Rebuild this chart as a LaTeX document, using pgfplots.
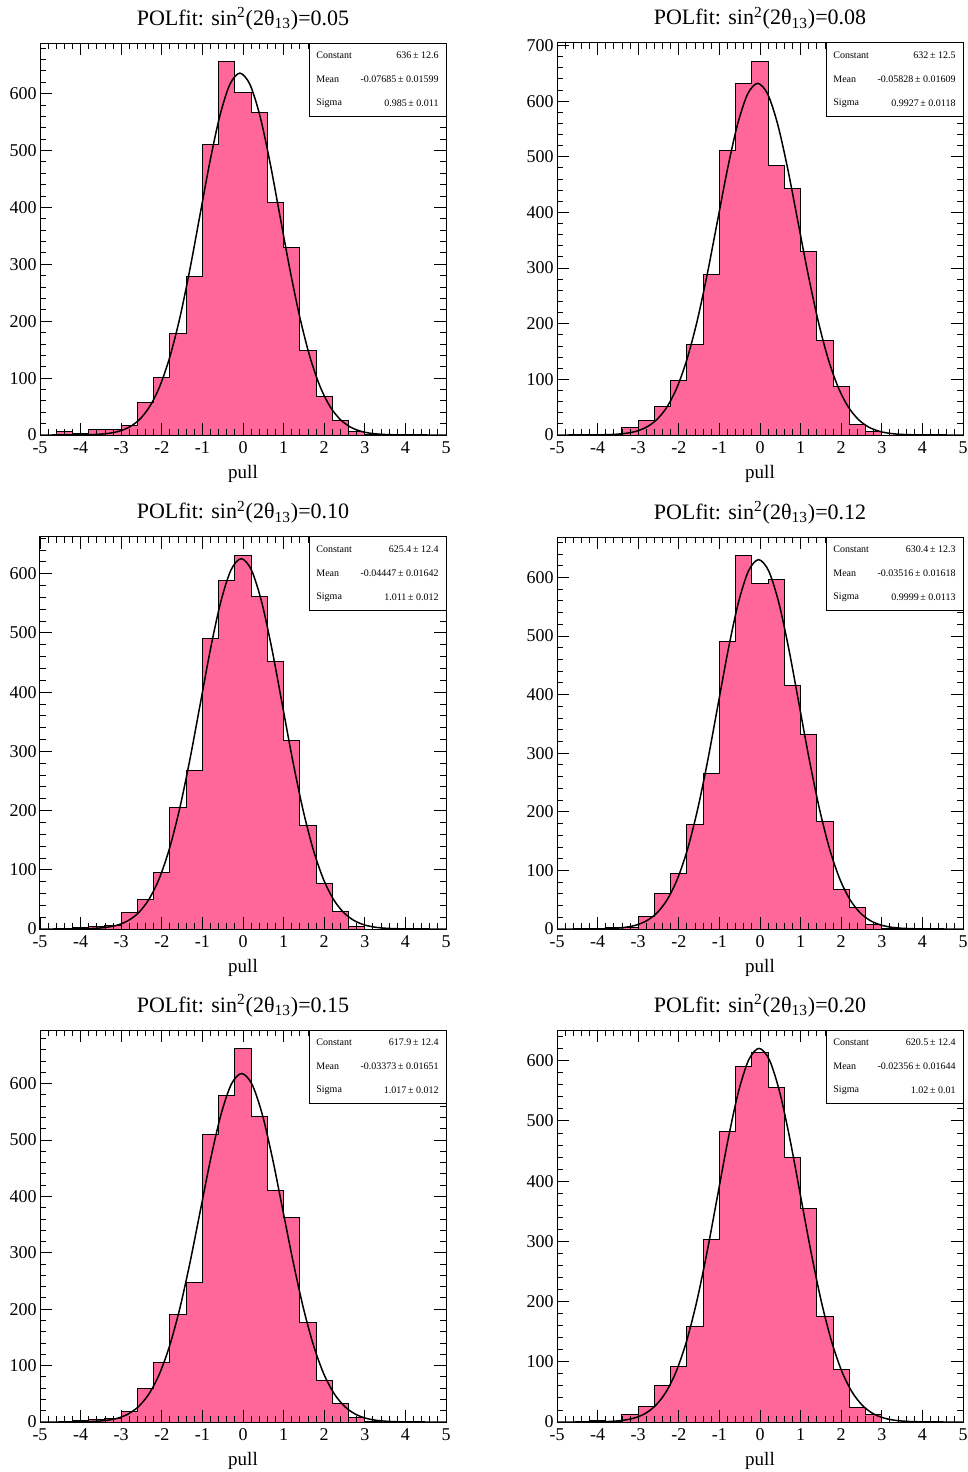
\documentclass[border=0pt]{standalone}
\usepackage{fontspec}
\setmainfont{Liberation Serif}
\usepackage{pgfplots}
\pgfplotsset{compat=1.18}
\definecolor{histpink}{RGB}{255,102,153}
\pgfplotsset{
 rootaxis/.style={
  scale only axis, width=203pt, height=196pt,
  xmin=-5, xmax=5, ymin=0,
  xtick={-5,-4,-3,-2,-1,0,1,2,3,4,5},
  xticklabels={-5,-4,-3,-2,-1,0,1,2,3,4,5},
  ytick={0,100,200,300,400,500,600,700},
  yticklabels={0,100,200,300,400,500,600,700},
  minor x tick num=4, minor y tick num=4,
  tick align=inside, tick pos=both,
  major tick length=6pt, minor tick length=3pt,
  tick style={black, line width=0.45pt},
  axis line style={line width=0.5pt},
  axis on top,
  xticklabel style={font=\fontsize{9}{10}\selectfont, anchor=base, yshift=-9pt, inner sep=0pt},
  yticklabel style={font=\fontsize{9}{10}\selectfont, anchor=east, xshift=-1.5pt, inner sep=0pt},
  xlabel={pull},
  xlabel style={font=\fontsize{9.5}{11}\selectfont, at={(axis description cs:0.5,0)}, anchor=base, yshift=-21.5pt, inner sep=0pt},
  title style={font=\fontsize{11}{13}\selectfont, at={(axis description cs:0.5,1)}, anchor=base, yshift=3pt, inner sep=0pt},
 },
 hist/.style={const plot, fill=histpink, draw=black, line width=0.5pt},
 fitc/.style={smooth, black, line width=0.75pt},
}
\newcommand{\statbox}[4]{%
 \draw[black, line width=0.5pt, fill=white] ([shift={(134.6pt,159.5pt)}]#1.south west) rectangle (#1.north east);
 \node[anchor=west, inner sep=0pt, font=\fontsize{5}{6}\selectfont] at ([shift={(138pt,189.9pt)}]#1.south west) {Constant};
 \node[anchor=west, inner sep=0pt, font=\fontsize{5}{6}\selectfont] at ([shift={(138pt,178.0pt)}]#1.south west) {Mean};
 \node[anchor=west, inner sep=0pt, font=\fontsize{5}{6}\selectfont] at ([shift={(138pt,166.0pt)}]#1.south west) {Sigma};
 \node[anchor=east, inner sep=0pt, font=\fontsize{5}{6}\selectfont] at ([shift={(199.5pt,189.9pt)}]#1.south west) {#2};
 \node[anchor=east, inner sep=0pt, font=\fontsize{5}{6}\selectfont] at ([shift={(199.5pt,178.0pt)}]#1.south west) {#3};
 \node[anchor=east, inner sep=0pt, font=\fontsize{5}{6}\selectfont] at ([shift={(199.5pt,166.0pt)}]#1.south west) {#4};
}
\begin{document}
\begin{tikzpicture}
\useasboundingbox (0,0) rectangle (484pt,-736pt);
% ---------- Panel 1 ----------
\begin{axis}[rootaxis, name=a1, at={(20pt,-217.5pt)}, anchor=south west, ymax=689,
  title={POLfit: sin\textsuperscript{2}(2θ\textsubscript{13})=0.05}]
\addplot[hist] coordinates {(-5,0)(-4.6,7)(-4.2,2)(-3.8,10)(-3.4,10)(-3.0,17)(-2.6,57)(-2.2,101)(-1.8,179)(-1.4,279)(-1.0,510)(-0.6,656)(-0.2,602)(0.2,567)(0.6,409)(1.0,329)(1.4,148)(1.8,67)(2.2,25)(2.6,6)(3.0,1)(3.4,0)(3.8,0)(4.2,0)(4.6,0)(5.0,0)} \closedcycle;
\addplot[fitc] coordinates {(-5.002,0.0)(-4.509,0.03)(-4.017,0.21)(-3.771,0.56)(-3.524,1.39)(-3.278,3.23)(-3.032,7.07)(-2.786,14.5)(-2.539,27.9)(-2.293,50.6)(-2.047,86.1)(-1.801,137.5)(-1.554,206.5)(-1.308,291.2)(-1.062,385.8)(-0.816,480.1)(-0.569,561.3)(-0.323,616.4)(-0.077,636)(0.169,616.4)(0.416,561.3)(0.662,480.1)(0.908,385.8)(1.154,291.2)(1.401,206.5)(1.647,137.5)(1.893,86.1)(2.139,50.6)(2.386,27.9)(2.632,14.5)(2.878,7.07)(3.124,3.23)(3.371,1.39)(3.617,0.56)(3.863,0.21)(4.356,0.03)(4.848,0.0)(5,0)};
\end{axis}
\statbox{a1}{636\,± 12.6}{-0.07685\,± 0.01599}{0.985\,± 0.011}
% ---------- Panel 2 ----------
\begin{axis}[rootaxis, name=a2, at={(278.5pt,-217.5pt)}, anchor=south west, ymax=704.5,
  title={POLfit: sin\textsuperscript{2}(2θ\textsubscript{13})=0.08}]
\addplot[hist] coordinates {(-5,0)(-4.6,1)(-4.2,0)(-3.8,1)(-3.4,13)(-3.0,26)(-2.6,51)(-2.2,98)(-1.8,162)(-1.4,288)(-1.0,512)(-0.6,631)(-0.2,671)(0.2,484)(0.6,443)(1.0,330)(1.4,169)(1.8,87)(2.2,18)(2.6,6)(3.0,0)(3.4,0)(3.8,0)(4.2,0)(4.6,0)(5.0,0)} \closedcycle;
\addplot[fitc] coordinates {(-5.022,0)(-4.525,0.03)(-4.029,0.21)(-3.781,0.56)(-3.533,1.38)(-3.285,3.21)(-3.036,7.02)(-2.788,14.4)(-2.540,27.8)(-2.292,50.3)(-2.044,85.5)(-1.796,136.7)(-1.547,205.2)(-1.299,289.3)(-1.051,383.3)(-0.803,477.1)(-0.555,557.7)(-0.306,612.6)(-0.058,632)(0.190,612.6)(0.438,557.7)(0.686,477.1)(0.934,383.3)(1.183,289.3)(1.431,205.2)(1.679,136.7)(1.927,85.5)(2.175,50.3)(2.424,27.8)(2.672,14.4)(2.920,7.02)(3.168,3.21)(3.416,1.38)(3.664,0.56)(3.913,0.21)(4.409,0.03)(4.905,0)(5,0)};
\end{axis}
\statbox{a2}{632\,± 12.5}{-0.05828\,± 0.01609}{0.9927\,± 0.0118}
% ---------- Panel 3 ----------
\begin{axis}[rootaxis, name=a3, at={(20pt,-464.5pt)}, anchor=south west, ymax=662,
  title={POLfit: sin\textsuperscript{2}(2θ\textsubscript{13})=0.10}]
\addplot[hist] coordinates {(-5,0)(-4.6,0)(-4.2,3)(-3.8,5)(-3.4,6)(-3.0,28)(-2.6,50)(-2.2,96)(-1.8,205)(-1.4,268)(-1.0,490)(-0.6,588)(-0.2,630)(0.2,561)(0.6,452)(1.0,319)(1.4,174)(1.8,77)(2.2,29)(2.6,5)(3.0,0)(3.4,0)(3.8,0)(4.2,0)(4.6,0)(5.0,0)} \closedcycle;
\addplot[fitc] coordinates {(-5.099,0)(-4.594,0.03)(-4.088,0.21)(-3.836,0.55)(-3.583,1.37)(-3.330,3.18)(-3.077,6.95)(-2.825,14.3)(-2.572,27.5)(-2.319,49.8)(-2.066,84.6)(-1.814,135.3)(-1.561,203.0)(-1.308,286.3)(-1.055,379.3)(-0.803,472.1)(-0.550,551.9)(-0.297,606.2)(-0.044,625.4)(0.208,606.2)(0.461,551.9)(0.714,472.1)(0.967,379.3)(1.219,286.3)(1.472,203.0)(1.725,135.3)(1.978,84.6)(2.230,49.8)(2.483,27.5)(2.736,14.3)(2.989,6.95)(3.241,3.18)(3.494,1.37)(3.747,0.55)(4.000,0.21)(4.505,0.03)(5.011,0)};
\end{axis}
\statbox{a3}{625.4\,± 12.4}{-0.04447\,± 0.01642}{1.011\,± 0.012}
% ---------- Panel 4 ----------
\begin{axis}[rootaxis, name=a4, at={(278.5pt,-464.5pt)}, anchor=south west, ymax=669,
  title={POLfit: sin\textsuperscript{2}(2θ\textsubscript{13})=0.12}]
\addplot[hist] coordinates {(-5,0)(-4.6,0)(-4.2,1)(-3.8,2)(-3.4,3)(-3.0,21)(-2.6,60)(-2.2,94)(-1.8,179)(-1.4,266)(-1.0,490)(-0.6,637)(-0.2,589)(0.2,597)(0.6,416)(1.0,332)(1.4,184)(1.8,67)(2.2,36)(2.6,7)(3.0,1)(3.4,0)(3.8,0)(4.2,0)(4.6,0)(5.0,0)} \closedcycle;
\addplot[fitc] coordinates {(-5.035,0)(-4.535,0.03)(-4.035,0.21)(-3.785,0.56)(-3.535,1.38)(-3.285,3.21)(-3.035,7.00)(-2.785,14.4)(-2.535,27.7)(-2.285,50.2)(-2.035,85.3)(-1.785,136.3)(-1.535,204.7)(-1.285,288.6)(-1.035,382.4)(-0.785,475.9)(-0.535,556.3)(-0.285,611.0)(-0.035,630.4)(0.215,611.0)(0.465,556.3)(0.715,475.9)(0.965,382.4)(1.215,288.6)(1.465,204.7)(1.715,136.3)(1.965,85.3)(2.215,50.2)(2.465,27.7)(2.715,14.4)(2.965,7.00)(3.215,3.21)(3.465,1.38)(3.715,0.56)(3.965,0.21)(4.465,0.03)(4.965,0)(5,0)};
\end{axis}
\statbox{a4}{630.4\,± 12.3}{-0.03516\,± 0.01618}{0.9999\,± 0.0113}
% ---------- Panel 5 ----------
\begin{axis}[rootaxis, name=a5, at={(20pt,-711pt)}, anchor=south west, ymax=695,
  title={POLfit: sin\textsuperscript{2}(2θ\textsubscript{13})=0.15}]
\addplot[hist] coordinates {(-5,0)(-4.6,0)(-4.2,2)(-3.8,5)(-3.4,6)(-3.0,19)(-2.6,59)(-2.2,105)(-1.8,190)(-1.4,248)(-1.0,509)(-0.6,579)(-0.2,662)(0.2,541)(0.6,410)(1.0,363)(1.4,176)(1.8,73)(2.2,32)(2.6,8)(3.0,1)(3.4,0)(3.8,0)(4.2,0)(4.6,0)(5.0,0)} \closedcycle;
\addplot[fitc] coordinates {(-5.119,0)(-4.610,0.02)(-4.102,0.21)(-3.848,0.55)(-3.593,1.35)(-3.339,3.14)(-3.085,6.86)(-2.831,14.1)(-2.576,27.2)(-2.322,49.2)(-2.068,83.6)(-1.814,133.6)(-1.559,200.6)(-1.305,282.9)(-1.051,374.8)(-0.797,466.4)(-0.542,545.3)(-0.288,598.9)(-0.034,617.9)(0.221,598.9)(0.475,545.3)(0.729,466.4)(0.983,374.8)(1.238,282.9)(1.492,200.6)(1.746,133.6)(2.000,83.6)(2.255,49.2)(2.509,27.2)(2.763,14.1)(3.017,6.86)(3.272,3.14)(3.526,1.35)(3.780,0.55)(4.034,0.21)(4.543,0.02)(5.051,0)};
\end{axis}
\statbox{a5}{617.9\,± 12.4}{-0.03373\,± 0.01651}{1.017\,± 0.012}
% ---------- Panel 6 ----------
\begin{axis}[rootaxis, name=a6, at={(278.5pt,-711pt)}, anchor=south west, ymax=651,
  title={POLfit: sin\textsuperscript{2}(2θ\textsubscript{13})=0.20}]
\addplot[hist] coordinates {(-5,0)(-4.6,0)(-4.2,2)(-3.8,1)(-3.4,12)(-3.0,25)(-2.6,61)(-2.2,93)(-1.8,159)(-1.4,303)(-1.0,483)(-0.6,590)(-0.2,614)(0.2,555)(0.6,440)(1.0,354)(1.4,176)(1.8,88)(2.2,24)(2.6,12)(3.0,0)(3.4,0)(3.8,0)(4.2,0)(4.6,0)(5.0,0)} \closedcycle;
\addplot[fitc] coordinates {(-5.124,0)(-4.614,0.02)(-4.104,0.21)(-3.849,0.55)(-3.594,1.36)(-3.339,3.16)(-3.084,6.89)(-2.829,14.1)(-2.574,27.3)(-2.319,49.4)(-2.064,84.0)(-1.809,134.2)(-1.554,201.4)(-1.299,284.1)(-1.044,376.4)(-0.789,468.4)(-0.534,547.6)(-0.279,601.4)(-0.024,620.5)(0.231,601.4)(0.486,547.6)(0.741,468.4)(0.996,376.4)(1.251,284.1)(1.506,201.4)(1.761,134.2)(2.016,84.0)(2.271,49.4)(2.526,27.3)(2.781,14.1)(3.036,6.89)(3.291,3.16)(3.546,1.36)(3.801,0.55)(4.056,0.21)(4.566,0.02)(5.076,0)};
\end{axis}
\statbox{a6}{620.5\,± 12.4}{-0.02356\,± 0.01644}{1.02\,± 0.01}
\end{tikzpicture}
\end{document}
